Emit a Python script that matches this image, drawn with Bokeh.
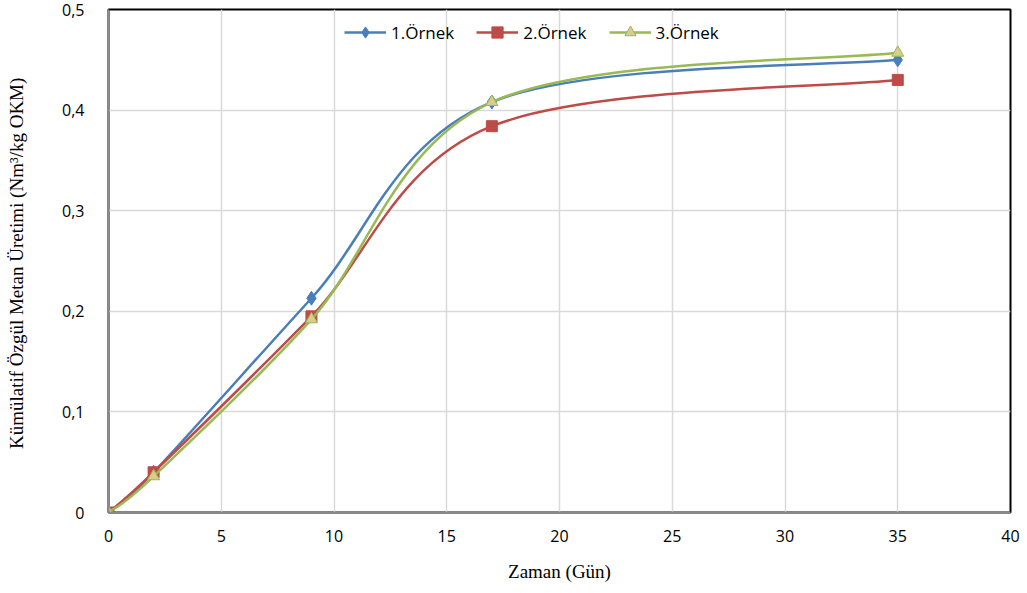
from bokeh.plotting import figure
from bokeh.models import (Range1d, Legend, LegendItem, FixedTicker,
                          CustomJSTickFormatter)
from bokeh.embed import file_html
from bokeh.resources import INLINE

# ---- data ----
days = [0, 2, 9, 17, 35]
ornek1 = [0.0, 0.040, 0.213, 0.408, 0.450]
ornek2 = [0.0, 0.040, 0.195, 0.384, 0.430]
ornek3 = [0.0, 0.036, 0.192, 0.408, 0.457]
series_names = ["1.Örnek", "2.Örnek", "3.Örnek"]
x_ticks = [0, 5, 10, 15, 20, 25, 30, 35, 40]
y_ticks = [0, 0.1, 0.2, 0.3, 0.4, 0.5]

line_colors = ["#4A7EBB", "#BE4B48", "#98B954"]
marker_fill = ["#4A7EBB", "#BE4B48", "#D9CC8C"]
markers = ["diamond", "square", "triangle"]
marker_sizes = [14, 11, 12]


def smooth_segments(xs, ys):
    """Excel-like smoothing: cubic Bezier control points from neighbours."""
    n = len(xs)
    x0, y0, x1, y1, cx0, cy0, cx1, cy1 = ([] for _ in range(8))
    for i in range(n - 1):
        ip = max(i - 1, 0)
        inn = min(i + 2, n - 1)
        x0.append(xs[i]); y0.append(ys[i])
        x1.append(xs[i + 1]); y1.append(ys[i + 1])
        cx0.append(xs[i] + (xs[i + 1] - xs[ip]) / 6.0)
        cy0.append(ys[i] + (ys[i + 1] - ys[ip]) / 6.0)
        cx1.append(xs[i + 1] - (xs[inn] - xs[i]) / 6.0)
        cy1.append(ys[i + 1] - (ys[inn] - ys[i]) / 6.0)
    return dict(x0=x0, y0=y0, x1=x1, y1=y1, cx0=cx0, cy0=cy0, cx1=cx1, cy1=cy1)


p = figure(width=1027, height=593, output_backend="svg", toolbar_location=None,
           x_range=Range1d(0, 40), y_range=Range1d(0, 0.5),
           min_border_left=108, min_border_right=17,
           min_border_top=9, min_border_bottom=81)

p.background_fill_color = "white"
p.border_fill_color = "white"
p.outline_line_color = "black"
p.outline_line_width = 2

p.xgrid.grid_line_color = "#D9D9D9"
p.ygrid.grid_line_color = "#D9D9D9"
p.xgrid.grid_line_width = 1.5
p.ygrid.grid_line_width = 1.5

p.xaxis.ticker = FixedTicker(ticks=x_ticks)
p.yaxis.ticker = FixedTicker(ticks=y_ticks)
p.yaxis.formatter = CustomJSTickFormatter(
    code="return tick == 0 ? '0' : tick.toFixed(1).replace('.', ',');")

for ax in (p.xaxis[0], p.yaxis[0]):
    ax.axis_line_color = "#8C8C8C"
    ax.axis_line_width = 2
    ax.major_tick_line_color = None
    ax.minor_tick_line_color = None
    ax.major_label_text_font = "Open Sans"
    ax.major_label_text_font_size = "16px"
    ax.major_label_text_color = "black"
    ax.axis_label_text_font = "Liberation Serif"
    ax.axis_label_text_font_style = "normal"
    ax.axis_label_text_font_size = "19px"
    ax.axis_label_text_color = "black"

p.xaxis.axis_label = "Zaman (Gün)"
p.yaxis.axis_label = "Kümülatif Özgül Metan Üretimi  (Nm³/kg OKM)"
p.xaxis.major_label_standoff = 11
p.xaxis.axis_label_standoff = 16
p.yaxis.major_label_standoff = 18
p.yaxis.axis_label_standoff = 32

items = []
for name, ys, lc, mf, mk, ms in zip(series_names, [ornek1, ornek2, ornek3],
                                     line_colors, marker_fill, markers, marker_sizes):
    seg = smooth_segments(days, ys)
    bez = p.bezier(x0="x0", y0="y0", x1="x1", y1="y1",
                   cx0="cx0", cy0="cy0", cx1="cx1", cy1="cy1",
                   source=seg, line_color=lc, line_width=2.5)
    sc = p.scatter(days, ys, marker=mk, size=ms, fill_color=mf,
                   line_color=lc, line_width=1)
    items.append(LegendItem(label=name, renderers=[bez, sc]))

legend = Legend(items=items, orientation="horizontal", location=(236, 466),
                background_fill_alpha=0, border_line_color=None,
                label_text_font="Open Sans", label_text_font_size="17px",
                label_text_color="black", glyph_width=42, glyph_height=28,
                label_height=28, spacing=22, padding=4, margin=0,
                label_standoff=5)
p.add_layout(legend, "center")

open("out.html", "w").write(file_html(p, INLINE))
